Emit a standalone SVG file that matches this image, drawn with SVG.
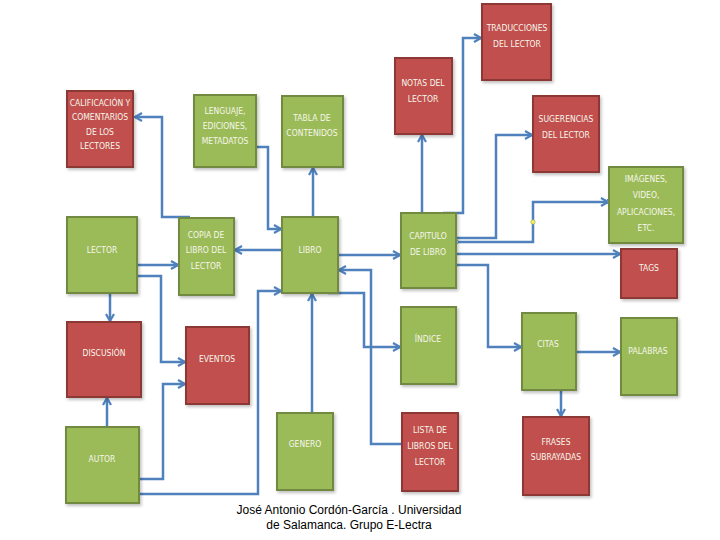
<svg xmlns="http://www.w3.org/2000/svg" width="720" height="540" viewBox="0 0 720 540">
<defs>
<marker id="ah" viewBox="0 0 10 10" refX="9" refY="5" markerWidth="10" markerHeight="10" markerUnits="userSpaceOnUse" orient="auto">
<path d="M2,1 L9,5 L2,9" fill="none" stroke="#4F81BD" stroke-width="2.2"/>
</marker>
<filter id="sh" x="-10%" y="-10%" width="130%" height="130%">
<feDropShadow dx="1.5" dy="2" stdDeviation="1.5" flood-color="#000" flood-opacity="0.25"/>
</filter>
</defs>
<style>
.r{fill:#C0504D;stroke:#8C3836;stroke-width:2;filter:url(#sh)}
.g{fill:#9BBB59;stroke:#71893F;stroke-width:2;filter:url(#sh)}
.t{font-family:"DejaVu Sans Condensed","Liberation Sans",sans-serif;font-size:8.5px;fill:#F6F6EC;text-anchor:middle}
.c{fill:none;stroke:#4F81BD;stroke-width:2.5;marker-end:url(#ah)}
.n{fill:none;stroke:#4F81BD;stroke-width:2.5}
.cap{font-family:"Liberation Sans",Arial,sans-serif;font-size:12px;fill:#000;text-anchor:middle}
</style>
<rect width="720" height="540" fill="#fff"/>
<g id="connectors">
<path class="c" d="M190,217 H162 V117 H135"/>
<path class="c" d="M256,147 H268 V229 H281"/>
<path class="c" d="M313,217 V168"/>
<path class="c" d="M282,250 H235"/>
<path class="c" d="M137,265 H178"/>
<path class="c" d="M137,276 H161 V362 H185"/>
<path class="c" d="M110,293 V321"/>
<path class="c" d="M107,427 V398"/>
<path class="c" d="M139,479 H163 V384 H185"/>
<path class="c" d="M139,494 H258 V291 H281"/>
<path class="c" d="M312,413 V294"/>
<path class="c" d="M338,255 H400"/>
<path class="c" d="M402,444 H371 V270 H339"/>
<path class="c" d="M328,293 H364 V347 H400"/>
<path class="c" d="M422,213 V135"/>
<path class="c" d="M443,213 H463 V38 H481"/>
<path class="c" d="M456,238 H496 V135 H532"/>
<path class="c" d="M456,242 H533 V202 H608"/>
<path class="c" d="M456,254 H620"/>
<path class="c" d="M456,265 H488 V347 H521"/>
<path class="c" d="M576,352 H620"/>
<path class="c" d="M561,390 V416"/>
<circle cx="456" cy="242" r="2.2" fill="#fff" stroke="#4F81BD" stroke-width="0.8"/>
<circle cx="533" cy="222" r="2.2" fill="#F5F06A" stroke="#A0A040" stroke-width="0.6"/>
<rect x="607.5" y="199.5" width="4" height="4" fill="#fff" stroke="#4F81BD" stroke-width="0.8"/>
</g>
<g id="calificacion"><rect class="r" x="67" y="91" width="66" height="76"/>
<text class="t" x="100" y="106">CALIFICACIÓN Y</text><text class="t" x="100" y="120">COMENTARIOS</text><text class="t" x="100" y="135">DE LOS</text><text class="t" x="100" y="149">LECTORES</text></g>
<g id="lenguaje"><rect class="g" x="194" y="95" width="62" height="72"/>
<text class="t" x="225" y="114">LENGUAJE,</text><text class="t" x="225" y="129">EDICIONES,</text><text class="t" x="225" y="144">METADATOS</text></g>
<g id="tabla"><rect class="g" x="282" y="96" width="61" height="71"/>
<text class="t" x="312" y="121">TABLA DE</text><text class="t" x="312" y="136">CONTENIDOS</text></g>
<g id="notas"><rect class="r" x="395" y="58" width="57" height="76"/>
<text class="t" x="423" y="86">NOTAS DEL</text><text class="t" x="423" y="102">LECTOR</text></g>
<g id="traducciones"><rect class="r" x="482" y="4" width="69" height="76"/>
<text class="t" x="517" y="31">TRADUCCIONES</text><text class="t" x="517" y="47">DEL LECTOR</text></g>
<g id="sugerencias"><rect class="r" x="533" y="96" width="66" height="76"/>
<text class="t" x="566" y="122">SUGERENCIAS</text><text class="t" x="566" y="138">DEL LECTOR</text></g>
<g id="imagenes"><rect class="g" x="609" y="167" width="74" height="76"/>
<text class="t" x="646" y="182">IMÁGENES,</text><text class="t" x="646" y="198">VIDEO,</text><text class="t" x="646" y="215">APLICACIONES,</text><text class="t" x="646" y="231">ETC.</text></g>
<g id="tags"><rect class="r" x="621" y="249" width="56" height="49"/>
<text class="t" x="649" y="271">TAGS</text></g>
<g id="lector"><rect class="g" x="67" y="217" width="70" height="76"/>
<text class="t" x="102" y="253">LECTOR</text></g>
<g id="copia"><rect class="g" x="179" y="218" width="55" height="77"/>
<text class="t" x="206" y="238">COPIA DE</text><text class="t" x="206" y="253">LIBRO DEL</text><text class="t" x="206" y="269">LECTOR</text></g>
<g id="libro"><rect class="g" x="282" y="217" width="56" height="76"/>
<text class="t" x="310" y="253">LIBRO</text></g>
<g id="capitulo"><rect class="g" x="401" y="213" width="55" height="75"/>
<text class="t" x="428" y="239">CAPITULO</text><text class="t" x="428" y="255">DE LIBRO</text></g>
<g id="discusion"><rect class="r" x="67" y="322" width="74" height="75"/>
<text class="t" x="104" y="356">DISCUSIÓN</text></g>
<g id="eventos"><rect class="r" x="186" y="327" width="63" height="77"/>
<text class="t" x="217" y="362">EVENTOS</text></g>
<g id="indice"><rect class="g" x="401" y="307" width="55" height="77"/>
<text class="t" x="428" y="342">ÍNDICE</text></g>
<g id="citas"><rect class="g" x="522" y="313" width="54" height="77"/>
<text class="t" x="548" y="347">CITAS</text></g>
<g id="palabras"><rect class="g" x="621" y="318" width="56" height="77"/>
<text class="t" x="648" y="354">PALABRAS</text></g>
<g id="autor"><rect class="g" x="66" y="427" width="73" height="76"/>
<text class="t" x="102" y="462">AUTOR</text></g>
<g id="genero"><rect class="g" x="277" y="413" width="56" height="77"/>
<text class="t" x="305" y="447">GENERO</text></g>
<g id="lista"><rect class="r" x="402" y="413" width="56" height="78"/>
<text class="t" x="430" y="433">LISTA DE</text><text class="t" x="430" y="449">LIBROS DEL</text><text class="t" x="430" y="465">LECTOR</text></g>
<g id="frases"><rect class="r" x="523" y="417" width="66" height="78"/>
<text class="t" x="556" y="445">FRASES</text><text class="t" x="556" y="460">SUBRAYADAS</text></g>
<g id="caption">
<text class="cap" x="349" y="514">José Antonio Cordón-García . Universidad</text>
<text class="cap" x="349" y="529">de Salamanca. Grupo E-Lectra</text>
</g>
</svg>
